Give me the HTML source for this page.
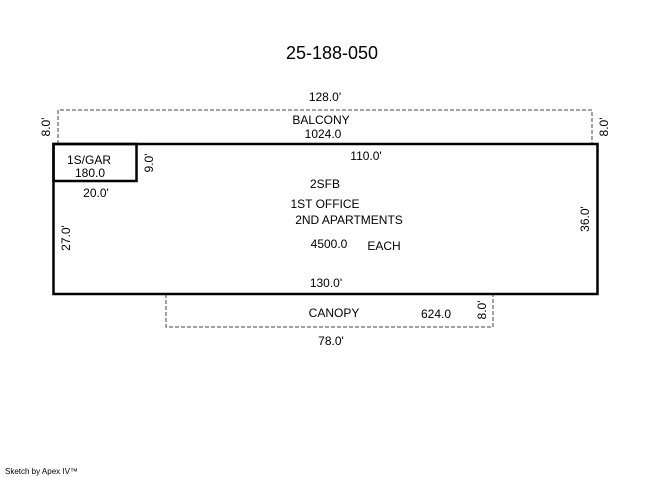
<!DOCTYPE html>
<html><head><meta charset="utf-8"><style>
html,body{margin:0;padding:0;background:#fff;}
svg{display:block;}
text{font-family:"Liberation Sans","DejaVu Sans",sans-serif;fill:#000;font-size:12px;}
</style></head><body>
<svg width="650" height="477" viewBox="0 0 650 477" xmlns="http://www.w3.org/2000/svg">
<rect width="650" height="477" fill="#fff"/>
<text x="332" y="59" text-anchor="middle" style="font-size:18px">25-188-050</text>
<polyline points="58,144 58,110 592,110 592,144" fill="none" stroke="#444" stroke-width="1" stroke-dasharray="4,2"/>
<polyline points="166,294 166,327 493,327 493,294" fill="none" stroke="#444" stroke-width="1" stroke-dasharray="4,2"/>
<rect x="53.5" y="144" width="544" height="150" fill="none" stroke="#000" stroke-width="2.5"/>
<rect x="53.5" y="144" width="83" height="37" fill="none" stroke="#000" stroke-width="2.5"/>
<text x="325" y="101" text-anchor="middle">128.0'</text>
<text x="321" y="124" text-anchor="middle">BALCONY</text>
<text x="323" y="138" text-anchor="middle">1024.0</text>
<text x="366" y="160" text-anchor="middle">110.0'</text>
<text x="89" y="164" text-anchor="middle">1S/GAR</text>
<text x="90" y="177" text-anchor="middle">180.0</text>
<text x="96" y="197" text-anchor="middle">20.0'</text>
<text x="325" y="188" text-anchor="middle">2SFB</text>
<text x="325" y="208" text-anchor="middle">1ST OFFICE</text>
<text x="349" y="224" text-anchor="middle">2ND APARTMENTS</text>
<text x="329" y="248" text-anchor="middle">4500.0</text>
<text x="384" y="250" text-anchor="middle">EACH</text>
<text x="326" y="287" text-anchor="middle">130.0'</text>
<text x="334" y="317" text-anchor="middle">CANOPY</text>
<text x="436" y="318" text-anchor="middle">624.0</text>
<text x="331" y="345" text-anchor="middle">78.0'</text>
<text transform="translate(50,127) rotate(-90)" text-anchor="middle">8.0'</text>
<text transform="translate(608,127) rotate(-90)" text-anchor="middle">8.0'</text>
<text transform="translate(153,163) rotate(-90)" text-anchor="middle">9.0'</text>
<text transform="translate(70,238) rotate(-90)" text-anchor="middle">27.0'</text>
<text transform="translate(589,219) rotate(-90)" text-anchor="middle">36.0'</text>
<text transform="translate(486,310) rotate(-90)" text-anchor="middle">8.0'</text>
<text x="5" y="474" style="font-size:8px">Sketch by Apex IV™</text>
</svg>
</body></html>
